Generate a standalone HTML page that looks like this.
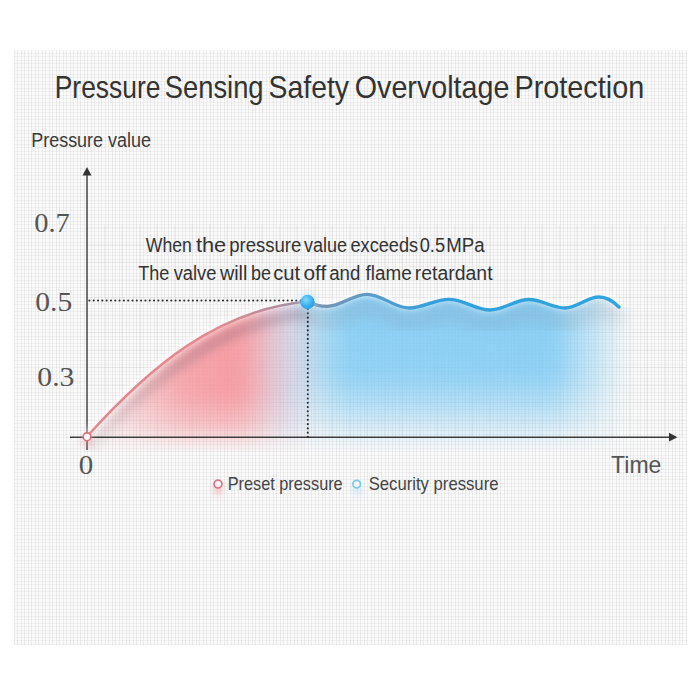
<!DOCTYPE html>
<html><head><meta charset="utf-8">
<style>
html,body{margin:0;padding:0;width:700px;height:700px;background:#fff;overflow:hidden}
#panel{position:absolute;left:14px;top:50px;width:673px;height:595px;background-color:#fafafa;
background-image:repeating-linear-gradient(90deg,rgba(0,0,0,0.06) 0 1px,rgba(255,255,255,0) 1px 3.5px),
repeating-linear-gradient(0deg,rgba(0,0,0,0.04) 0 1px,rgba(255,255,255,0.0) 1px 3.5px);}
svg{position:absolute;left:0;top:0}
text{font-family:"Liberation Sans",sans-serif}
.serif{font-family:"Liberation Serif",serif}
</style></head>
<body>
<div id="panel"></div>
<svg width="700" height="700" viewBox="0 0 700 700">
<defs>
  <linearGradient id="shgrad" x1="87" y1="0" x2="307" y2="0" gradientUnits="userSpaceOnUse">
    <stop offset="0" stop-color="#6a5a6a" stop-opacity="0.35"/>
    <stop offset="0.45" stop-color="#6a5a6a" stop-opacity="1"/>
    <stop offset="1" stop-color="#6a5a6a" stop-opacity="1"/>
  </linearGradient>
  <filter id="b8" x="-20%" y="-50%" width="140%" height="200%"><feGaussianBlur stdDeviation="8"/></filter>
  <linearGradient id="hgrad" x1="80" y1="0" x2="650" y2="0" gradientUnits="userSpaceOnUse">
    <stop offset="0" stop-color="#f5a0a6" stop-opacity="0.12"/>
    <stop offset="0.09" stop-color="#f5a0a6" stop-opacity="0.5"/>
    <stop offset="0.18" stop-color="#f5979e" stop-opacity="0.84"/>
    <stop offset="0.27" stop-color="#f5939a" stop-opacity="0.92"/>
    <stop offset="0.30" stop-color="#f39ba3" stop-opacity="0.86"/>
    <stop offset="0.335" stop-color="#dcaabc" stop-opacity="0.68"/>
    <stop offset="0.368" stop-color="#c0bcd8" stop-opacity="0.58"/>
    <stop offset="0.40" stop-color="#a0c4e6" stop-opacity="0.6"/>
    <stop offset="0.42" stop-color="#88ccf0" stop-opacity="0.68"/>
    <stop offset="0.47" stop-color="#7ecaf4" stop-opacity="0.88"/>
    <stop offset="0.83" stop-color="#7ecaf4" stop-opacity="0.9"/>
    <stop offset="0.905" stop-color="#94d3f4" stop-opacity="0.5"/>
    <stop offset="0.965" stop-color="#a0d8f5" stop-opacity="0"/>
  </linearGradient>
    <linearGradient id="vgradP" x1="0" y1="285" x2="0" y2="445" gradientUnits="userSpaceOnUse">
    <stop offset="0" stop-color="#fff"/>
    <stop offset="0.68" stop-color="#fff" stop-opacity="0.97"/>
    <stop offset="0.86" stop-color="#fff" stop-opacity="0.66"/>
    <stop offset="1" stop-color="#fff" stop-opacity="0.22"/>
  </linearGradient>
  <linearGradient id="vgrad" x1="0" y1="285" x2="0" y2="445" gradientUnits="userSpaceOnUse">
    <stop offset="0" stop-color="#fff"/>
    <stop offset="0.55" stop-color="#fff" stop-opacity="0.95"/>
    <stop offset="0.75" stop-color="#fff" stop-opacity="0.62"/>
    <stop offset="0.9" stop-color="#fff" stop-opacity="0.28"/>
    <stop offset="1" stop-color="#fff" stop-opacity="0.1"/>
  </linearGradient>
  <mask id="vmask" maskUnits="userSpaceOnUse" x="0" y="0" width="700" height="700"><rect x="0" y="0" width="300" height="700" fill="url(#vgradP)"/><rect x="300" y="0" width="400" height="700" fill="url(#vgrad)"/></mask>
  <filter id="b20" x="-50%" y="-50%" width="200%" height="200%"><feGaussianBlur stdDeviation="20"/></filter>
  <filter id="b12" x="-50%" y="-50%" width="200%" height="200%"><feGaussianBlur stdDeviation="12"/></filter>
  <filter id="b5" x="-50%" y="-50%" width="200%" height="200%"><feGaussianBlur stdDeviation="5"/></filter>
  <filter id="b3" x="-50%" y="-50%" width="200%" height="200%"><feGaussianBlur stdDeviation="3"/></filter>
  <clipPath id="under">
    <path d="M87,436.5 C149.3,367.4 216.1,310.3 307,301.5 C313,304.5 320,306.4 327,306.4 C341.6,306.4 352.4,294.3 367,294.3 C382.3,294.3 393.7,308 409,308 C423.6,308 434.4,299.3 449,299.3 C463.9,299.3 475.1,310 490,310 C504.2,310 514.8,299.5 529,299.5 C542.1,299.5 551.9,308 565,308 C577.4,308 586.6,297 599,297 C607,297 613,301 619,307 L680,307 L680,452 L87,452 L87,437 Z"/>
  </clipPath>
  <linearGradient id="wavegrad" x1="307" y1="0" x2="619" y2="0" gradientUnits="userSpaceOnUse">
    <stop offset="0" stop-color="#7c93aa"/>
    <stop offset="0.22" stop-color="#5a9ccb"/>
    <stop offset="0.4" stop-color="#32a0dc"/>
    <stop offset="1" stop-color="#30a4e0"/>
  </linearGradient>
  <linearGradient id="curvegrad" x1="87" y1="0" x2="307" y2="0" gradientUnits="userSpaceOnUse">
    <stop offset="0" stop-color="#e8868c"/>
    <stop offset="0.6" stop-color="#e08c92"/>
    <stop offset="1" stop-color="#9a8fa5"/>
  </linearGradient>
  <radialGradient id="ballgrad" cx="0.4" cy="0.35" r="0.7">
    <stop offset="0" stop-color="#86d6fa"/>
    <stop offset="0.6" stop-color="#3cb0f0"/>
    <stop offset="1" stop-color="#2a98e0"/>
  </radialGradient>
</defs>

<g stroke="#000" stroke-opacity="0.045" stroke-width="1"><line x1="87" y1="227.4" x2="687" y2="227.4"/><line x1="87" y1="244.9" x2="687" y2="244.9"/><line x1="87" y1="262.4" x2="687" y2="262.4"/><line x1="87" y1="279.9" x2="687" y2="279.9"/><line x1="87" y1="297.4" x2="687" y2="297.4"/><line x1="87" y1="314.9" x2="687" y2="314.9"/><line x1="87" y1="332.4" x2="687" y2="332.4"/><line x1="87" y1="349.9" x2="687" y2="349.9"/><line x1="87" y1="367.4" x2="687" y2="367.4"/><line x1="87" y1="384.9" x2="687" y2="384.9"/><line x1="87" y1="402.4" x2="687" y2="402.4"/><line x1="87" y1="419.9" x2="687" y2="419.9"/><line x1="104.5" y1="225" x2="104.5" y2="437"/><line x1="122.0" y1="225" x2="122.0" y2="437"/><line x1="139.5" y1="225" x2="139.5" y2="437"/><line x1="157.0" y1="225" x2="157.0" y2="437"/><line x1="174.5" y1="225" x2="174.5" y2="437"/><line x1="192.0" y1="225" x2="192.0" y2="437"/><line x1="209.5" y1="225" x2="209.5" y2="437"/><line x1="227.0" y1="225" x2="227.0" y2="437"/><line x1="244.5" y1="225" x2="244.5" y2="437"/><line x1="262.0" y1="225" x2="262.0" y2="437"/><line x1="279.5" y1="225" x2="279.5" y2="437"/><line x1="297.0" y1="225" x2="297.0" y2="437"/><line x1="314.5" y1="225" x2="314.5" y2="437"/><line x1="332.0" y1="225" x2="332.0" y2="437"/><line x1="349.5" y1="225" x2="349.5" y2="437"/><line x1="367.0" y1="225" x2="367.0" y2="437"/><line x1="384.5" y1="225" x2="384.5" y2="437"/><line x1="402.0" y1="225" x2="402.0" y2="437"/><line x1="419.5" y1="225" x2="419.5" y2="437"/><line x1="437.0" y1="225" x2="437.0" y2="437"/><line x1="454.5" y1="225" x2="454.5" y2="437"/><line x1="472.0" y1="225" x2="472.0" y2="437"/><line x1="489.5" y1="225" x2="489.5" y2="437"/><line x1="507.0" y1="225" x2="507.0" y2="437"/><line x1="524.5" y1="225" x2="524.5" y2="437"/><line x1="542.0" y1="225" x2="542.0" y2="437"/><line x1="559.5" y1="225" x2="559.5" y2="437"/><line x1="577.0" y1="225" x2="577.0" y2="437"/><line x1="594.5" y1="225" x2="594.5" y2="437"/><line x1="612.0" y1="225" x2="612.0" y2="437"/><line x1="629.5" y1="225" x2="629.5" y2="437"/><line x1="647.0" y1="225" x2="647.0" y2="437"/><line x1="664.5" y1="225" x2="664.5" y2="437"/><line x1="682.0" y1="225" x2="682.0" y2="437"/></g>
<!-- fills -->
<g clip-path="url(#under)">
  <g filter="url(#b8)">
    <rect x="80" y="285" width="570" height="160" fill="url(#hgrad)" mask="url(#vmask)"/>
  </g>
  <g filter="url(#b5)" opacity="0.3">
    <path d="M87,436.5 C149.3,367.4 216.1,310.3 307,301.5" fill="none" stroke="url(#shgrad)" stroke-width="9" transform="translate(2,12)"/>
  </g>
  <g filter="url(#b8)" opacity="0.17">
    <path d="M300,301.5 C313,304.5 320,306.4 327,306.4 C341.6,306.4 352.4,294.3 367,294.3 C382.3,294.3 393.7,308 409,308 C423.6,308 434.4,299.3 449,299.3 C463.9,299.3 475.1,310 490,310 C504.2,310 514.8,299.5 529,299.5 C542.1,299.5 551.9,308 565,308 C577.4,308 586.6,297 599,297 C607,297 613,301 619,307" fill="none" stroke="#6a6a78" stroke-width="14" transform="translate(0,13)"/>
  </g>
</g>

<!-- axes -->
<line x1="87" y1="174" x2="87" y2="450" stroke="#3c3c3c" stroke-width="1.4"/>
<path d="M82.5,175.5 L87,167 L91.5,175.5 Z" fill="#333"/>
<line x1="70" y1="437.2" x2="670" y2="437.2" stroke="#3c3c3c" stroke-width="1.5"/>
<path d="M669,432.8 L677.5,437.2 L669,441.6 Z" fill="#333"/>

<!-- curves -->
<path d="M87,436.5 C149.3,367.4 216.1,310.3 307,301.5 C313,304.5 320,306.4 327,306.4 C341.6,306.4 352.4,294.3 367,294.3 C382.3,294.3 393.7,308 409,308 C423.6,308 434.4,299.3 449,299.3 C463.9,299.3 475.1,310 490,310 C504.2,310 514.8,299.5 529,299.5 C542.1,299.5 551.9,308 565,308 C577.4,308 586.6,297 599,297 C607,297 613,301 619,307" fill="none" stroke="#fff" stroke-width="6" opacity="0.7" filter="url(#b3)" transform="translate(0,-2)"/>
<path d="M87,436.5 C149.3,367.4 216.1,310.3 307,301.5" fill="none" stroke="url(#curvegrad)" stroke-width="2.5"/>
<path d="M307,301.5 C313,304.5 320,306.4 327,306.4 C341.6,306.4 352.4,294.3 367,294.3 C382.3,294.3 393.7,308 409,308 C423.6,308 434.4,299.3 449,299.3 C463.9,299.3 475.1,310 490,310 C504.2,310 514.8,299.5 529,299.5 C542.1,299.5 551.9,308 565,308 C577.4,308 586.6,297 599,297 C607,297 613,301 619,307" fill="none" stroke="url(#wavegrad)" stroke-width="3.3" stroke-linecap="round"/>

<!-- dotted lines -->
<line x1="88.4" y1="300.5" x2="300" y2="300.5" stroke="#2e2e2e" stroke-width="2.1" stroke-linecap="round" stroke-dasharray="0.01 4.3" transform="translate(1,0)"/>
<line x1="307.8" y1="308.1" x2="307.8" y2="437.6" stroke="#2e2e2e" stroke-width="2.1" stroke-linecap="round" stroke-dasharray="0.01 4.25" transform="translate(0,1)"/>

<!-- origin circle -->
<circle cx="87" cy="441" r="6" fill="#f08a90" opacity="0.35" filter="url(#b3)"/>
<circle cx="87" cy="436.8" r="3.9" fill="#fff" stroke="#d8707a" stroke-width="1.6"/>
<!-- ball -->
<circle cx="307.5" cy="302" r="9.5" fill="#aee4ff" opacity="0.45" filter="url(#b3)"/>
<circle cx="307.5" cy="302" r="7.2" fill="url(#ballgrad)"/>

<!-- text -->
<text x="54.77" y="97.5" font-size="30.5" fill="#333" textLength="105.64" lengthAdjust="spacingAndGlyphs">Pressure</text>
<text x="164.81" y="97.5" font-size="30.5" fill="#333" textLength="98.79" lengthAdjust="spacingAndGlyphs">Sensing</text>
<text x="268.54" y="97.5" font-size="30.5" fill="#333" textLength="80.50" lengthAdjust="spacingAndGlyphs">Safety</text>
<text x="354.76" y="97.5" font-size="30.5" fill="#333" textLength="154.61" lengthAdjust="spacingAndGlyphs">Overvoltage</text>
<text x="514.51" y="97.5" font-size="30.5" fill="#333" textLength="129.69" lengthAdjust="spacingAndGlyphs">Protection</text>
<text x="145.80" y="251.5" font-size="19.5" fill="#333" textLength="46.06" lengthAdjust="spacingAndGlyphs">When</text>
<text x="195.90" y="251.5" font-size="19.5" fill="#333" textLength="30.34" lengthAdjust="spacingAndGlyphs">the</text>
<text x="229.15" y="251.5" font-size="19.5" fill="#333" textLength="72.18" lengthAdjust="spacingAndGlyphs">pressure</text>
<text x="304.00" y="251.5" font-size="19.5" fill="#333" textLength="43.08" lengthAdjust="spacingAndGlyphs">value</text>
<text x="350.47" y="251.5" font-size="19.5" fill="#333" textLength="67.63" lengthAdjust="spacingAndGlyphs">exceeds</text>
<text x="419.66" y="251.5" font-size="19.5" fill="#333" textLength="25.37" lengthAdjust="spacingAndGlyphs">0.5</text>
<text x="446.29" y="251.5" font-size="19.5" fill="#333" textLength="38.32" lengthAdjust="spacingAndGlyphs">MPa</text>
<text x="138.30" y="279.7" font-size="19.5" fill="#333" textLength="31.06" lengthAdjust="spacingAndGlyphs">The</text>
<text x="173.70" y="279.7" font-size="19.5" fill="#333" textLength="42.80" lengthAdjust="spacingAndGlyphs">valve</text>
<text x="219.90" y="279.7" font-size="19.5" fill="#333" textLength="27.51" lengthAdjust="spacingAndGlyphs">will</text>
<text x="250.98" y="279.7" font-size="19.5" fill="#333" textLength="19.97" lengthAdjust="spacingAndGlyphs">be</text>
<text x="273.26" y="279.7" font-size="19.5" fill="#333" textLength="26.95" lengthAdjust="spacingAndGlyphs">cut</text>
<text x="303.53" y="279.7" font-size="19.5" fill="#333" textLength="22.75" lengthAdjust="spacingAndGlyphs">off</text>
<text x="329.14" y="279.7" font-size="19.5" fill="#333" textLength="31.18" lengthAdjust="spacingAndGlyphs">and</text>
<text x="365.50" y="279.7" font-size="19.5" fill="#333" textLength="46.17" lengthAdjust="spacingAndGlyphs">flame</text>
<text x="414.80" y="279.7" font-size="19.5" fill="#333" textLength="77.76" lengthAdjust="spacingAndGlyphs">retardant</text>
<text x="31.26" y="147" font-size="19.5" fill="#3a3a3a" textLength="119.63" lengthAdjust="spacingAndGlyphs">Pressure value</text>
<text x="611.10" y="473.3" font-size="24.5" fill="#555" textLength="50.31" lengthAdjust="spacingAndGlyphs">Time</text>
<text x="227.68" y="489.5" font-size="17.7" fill="#444" textLength="115.01" lengthAdjust="spacingAndGlyphs">Preset pressure</text>
<text x="368.66" y="489.5" font-size="17.7" fill="#444" textLength="129.83" lengthAdjust="spacingAndGlyphs">Security pressure</text>
<text class="serif" x="34.25" y="231.6" font-size="27.2" fill="#555" textLength="35.53" lengthAdjust="spacingAndGlyphs">0.7</text>
<text class="serif" x="35.35" y="310.9" font-size="28" fill="#555" textLength="36.91" lengthAdjust="spacingAndGlyphs">0.5</text>
<text class="serif" x="37.28" y="385.9" font-size="26.5" fill="#555" textLength="37.19" lengthAdjust="spacingAndGlyphs">0.3</text>
<text class="serif" x="78.85" y="473.9" font-size="27.6" fill="#555" textLength="14.49" lengthAdjust="spacingAndGlyphs">0</text>

<!-- legend -->
<ellipse cx="218" cy="489" rx="4.5" ry="6" fill="#f08a95" opacity="0.45" filter="url(#b3)"/>
<circle cx="218" cy="484.1" r="3.9" fill="#fdf6f6" stroke="#d87585" stroke-width="1.7"/>
<ellipse cx="357" cy="489" rx="4.5" ry="6" fill="#9ad6f2" opacity="0.4" filter="url(#b3)"/>
<circle cx="356.7" cy="484.1" r="3.8" fill="#fbf6fa" stroke="#7ccbe6" stroke-width="1.7"/>
</svg>
</body></html>
